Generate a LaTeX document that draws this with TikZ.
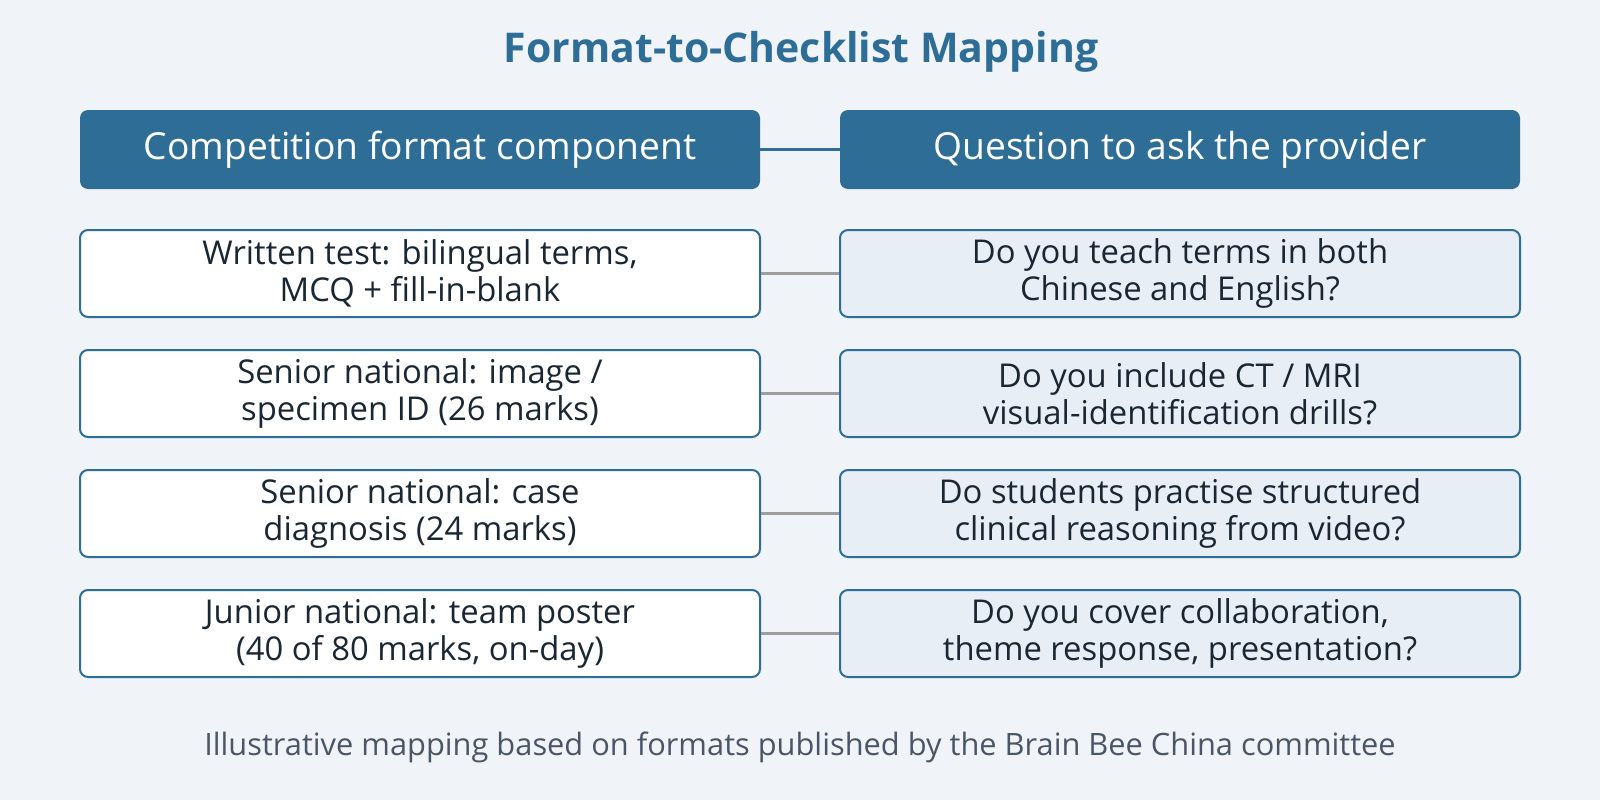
\documentclass[tikz,border=0pt]{standalone}
\usepackage{fontspec}
\setmainfont{Open Sans}
\definecolor{bg}{HTML}{F0F4F8}
\definecolor{hblue}{HTML}{2E6E96}
\definecolor{rfill}{HTML}{E8EEF6}
\definecolor{txt}{HTML}{1A2733}
\definecolor{foot}{HTML}{4A5566}
\definecolor{conn}{HTML}{9E9E9E}
\begin{document}
\begin{tikzpicture}[x=1pt,y=-1pt,
  hdr/.style={draw=none,fill=hblue,rounded corners=8pt,minimum width=680pt,minimum height=79pt,text=white,font=\fontsize{37.2}{43}\selectfont,inner sep=0pt},
  lbox/.style={draw=hblue,line width=2pt,fill=white,rounded corners=8pt,minimum width=680pt,minimum height=87pt,text=txt,align=center,font=\fontsize{32.8}{37}\selectfont,inner sep=0pt},
  rbox/.style={lbox,fill=rfill},
  hconn/.style={draw=hblue,line width=3pt},
  rconn/.style={draw=conn,line width=3pt}]
\fill[bg] (0,0) rectangle (1600,800);
\useasboundingbox (0,0) rectangle (1600,800);
\node[text=hblue,anchor=base,font=\bfseries\fontsize{41}{47}\selectfont] (title) at (801,63) {Format-to-Checklist Mapping};
\node[hdr] (h1) at (420,149.5) {Competition format component};
\node[hdr] (h2) at (1180,149.5) {Question to ask the provider};
\draw[hconn] (h1.east) -- (h2.west);
\node[lbox] (l1) at (420,273.5) {Written test: bilingual terms,\\MCQ + fill-in-blank};
\node[rbox] (r1) at (1180,273.5) {Do you teach terms in both\\Chinese and English?};
\node[lbox] (l2) at (420,393.5) {Senior national: image /\\specimen ID (26 marks)};
\node[rbox] (r2) at (1180,393.5) {Do you include CT / MRI\\visual-identification drills?};
\node[lbox] (l3) at (420,513.5) {Senior national: case\\diagnosis (24 marks)};
\node[rbox] (r3) at (1180,513.5) {Do students practise structured\\clinical reasoning from video?};
\node[lbox] (l4) at (420,633.5) {Junior national: team poster\\(40 of 80 marks, on-day)};
\node[rbox] (r4) at (1180,633.5) {Do you cover collaboration,\\theme response, presentation?};
\foreach \i in {1,2,3,4} \draw[rconn] (l\i.east) -- (r\i.west);
\node[text=foot,anchor=base,font=\fontsize{30.8}{36}\selectfont] (note) at (800,755) {Illustrative mapping based on formats published by the Brain Bee China committee};
\end{tikzpicture}
\end{document}
